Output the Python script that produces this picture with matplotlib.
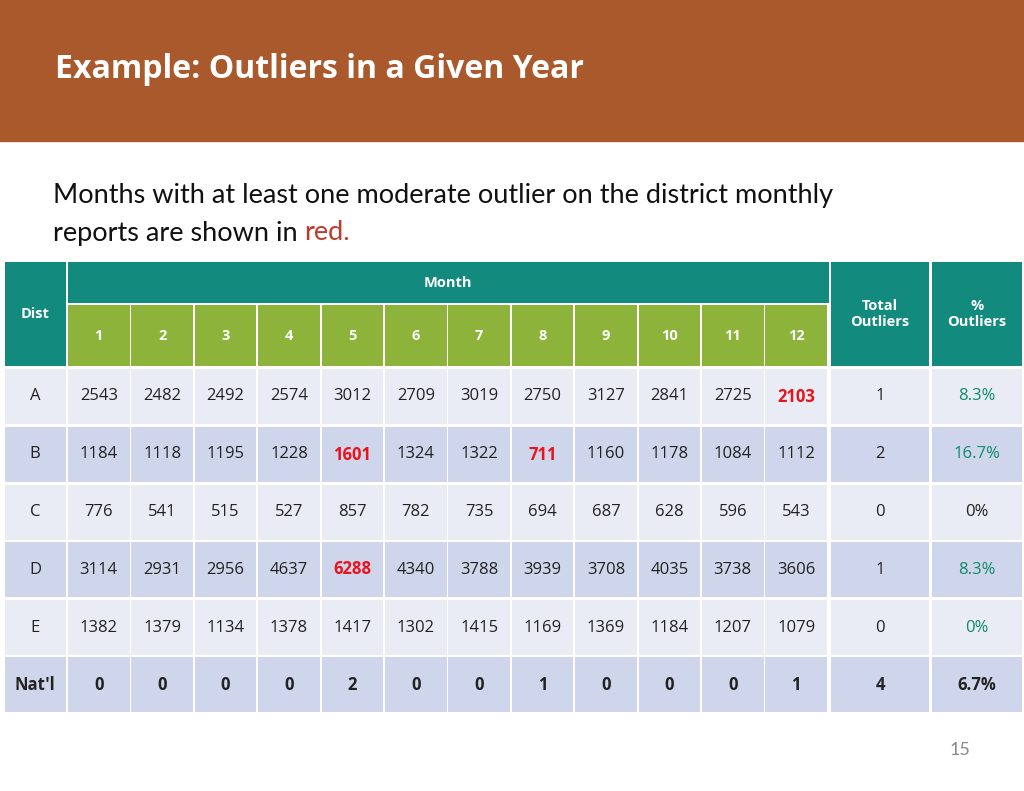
import matplotlib
matplotlib.use("Agg")
import matplotlib.pyplot as plt
from matplotlib.patches import Rectangle

title = "Example: Outliers in a Given Year"
subtitle_a = "Months with at least one moderate outlier on the district monthly"
subtitle_b = "reports are shown in "
subtitle_red = "red."
months = [str(i) for i in range(1, 13)]
districts = ["A", "B", "C", "D", "E"]
values = [
    [2543, 2482, 2492, 2574, 3012, 2709, 3019, 2750, 3127, 2841, 2725, 2103],
    [1184, 1118, 1195, 1228, 1601, 1324, 1322, 711, 1160, 1178, 1084, 1112],
    [776, 541, 515, 527, 857, 782, 735, 694, 687, 628, 596, 543],
    [3114, 2931, 2956, 4637, 6288, 4340, 3788, 3939, 3708, 4035, 3738, 3606],
    [1382, 1379, 1134, 1378, 1417, 1302, 1415, 1169, 1369, 1184, 1207, 1079],
]
outliers = [(0, 11), (1, 4), (1, 7), (3, 4)]
total_outliers = [1, 2, 0, 1, 0]
pct_outliers = ["8.3%", "16.7%", "0%", "8.3%", "0%"]
natl_label = "Nat'l"
natl = [0, 0, 0, 0, 2, 0, 0, 1, 0, 0, 0, 1]
natl_total = 4
natl_pct = "6.7%"
page = "15"

fig = plt.figure(figsize=(10.24, 7.91), dpi=100)
ax = fig.add_axes([0, 0, 1, 1])
ax.set_xlim(0, 1024); ax.set_ylim(791, 0); ax.axis("off")

BROWN = "#A9592B"; TEAL = "#128A7E"; GREEN = "#8DB33A"
LIGHT = "#E9ECF4"; DARK = "#CFD5EA"; PCT = "#0E8A6E"
FONT = "Lato"

ax.add_patch(Rectangle((0, 0), 1024, 141, color=BROWN))
ax.text(55, 70, title, color="white", fontsize=23, fontweight="bold", va="center", family="Open Sans")
ax.text(53, 195, subtitle_a, fontsize=19.5, va="center", family=FONT, color="#111111")
t = ax.text(53, 233, subtitle_b, fontsize=19.5, va="center", family=FONT, color="#111111")
fig.canvas.draw()
bb = t.get_window_extent()
ax.text(53 + bb.width, 233, subtitle_red, fontsize=19.5, va="center", family=FONT, color="#C0392B")

def box(x0, x1, y0, y1, c):
    ax.add_patch(Rectangle((x0, y0), x1 - x0, y1 - y0, color=c, lw=0))

col_l = [68 + i * 63.4 for i in range(12)]
cw = 61.6
# headers
box(5, 66, 262, 366, TEAL)
ax.text(35, 314, "Dist", color="white", fontsize=10.5, fontweight="bold", ha="center", va="center", family="Open Sans")
box(68, 829, 262, 303, TEAL)
ax.text(448, 283, "Month", color="white", fontsize=10.5, fontweight="bold", ha="center", va="center", family="Open Sans")
for i, m in enumerate(months):
    box(col_l[i], col_l[i] + cw, 305, 366, GREEN)
    ax.text(col_l[i] + cw / 2, 336, m, color="white", fontsize=10.5, fontweight="bold", ha="center", va="center", family="Open Sans")
box(831, 929, 262, 366, TEAL)
ax.text(880, 314, "Total\nOutliers", color="white", fontsize=10.5, fontweight="bold", ha="center", va="center", family="Open Sans", linespacing=1.2)
box(932, 1022, 262, 366, TEAL)
ax.text(977, 314, "%\nOutliers", color="white", fontsize=10.5, fontweight="bold", ha="center", va="center", family="Open Sans", linespacing=1.2)

row_top = [369, 427, 485, 542, 600, 657]
rh = 55
rows = [(districts[r], values[r], total_outliers[r], pct_outliers[r], False) for r in range(5)]
rows.append((natl_label, natl, natl_total, natl_pct, True))
for r, (lab, vals, tot, pct, bold) in enumerate(rows):
    y0 = row_top[r]; yc = y0 + rh / 2
    c = LIGHT if r % 2 == 0 else DARK
    fw = "bold" if bold else "normal"
    box(5, 66, y0, y0 + rh, c)
    ax.text(35, yc, lab, fontsize=12, ha="center", va="center", family="Open Sans", fontweight=fw, color="#222222")
    for i, v in enumerate(vals):
        box(col_l[i], col_l[i] + cw, y0, y0 + rh, c)
        red = (r, i) in outliers
        ax.text(col_l[i] + cw / 2, yc, str(v), fontsize=12, ha="center", va="center", family="Open Sans",
                fontweight="bold" if (red or bold) else "normal", color="#E8141B" if red else "#222222")
    box(831, 929, y0, y0 + rh, c)
    ax.text(880, yc, str(tot), fontsize=12, ha="center", va="center", family="Open Sans", fontweight=fw, color="#222222")
    box(932, 1022, y0, y0 + rh, c)
    pc = "#222222" if (bold or pct == "0%" and r == 2) else PCT
    ax.text(977, yc, pct, fontsize=12, ha="center", va="center", family="Open Sans", fontweight=fw, color=pc)

ax.text(960, 750, page, fontsize=13, ha="center", va="center", family=FONT, color="#888888")
fig.savefig("out.png", dpi=100)
